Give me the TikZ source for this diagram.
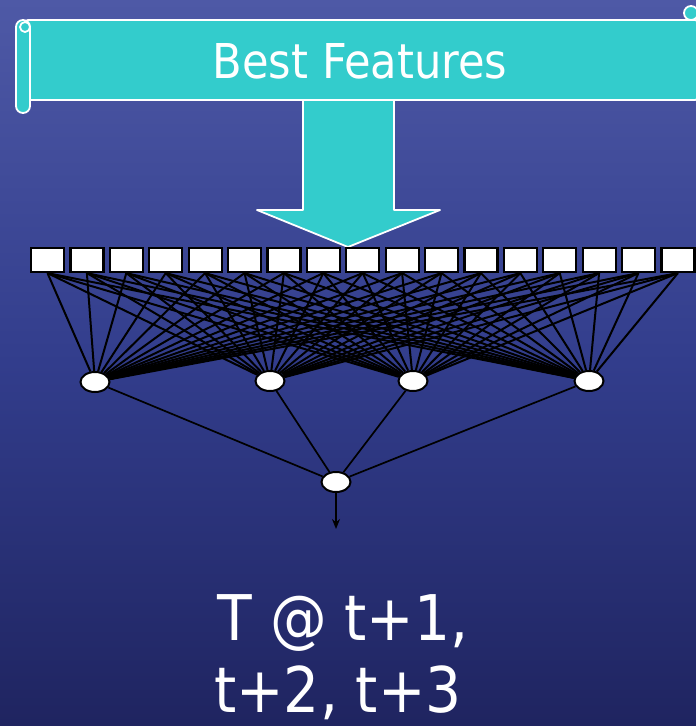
\documentclass[tikz,border=0pt]{standalone}
\usepackage{fontspec}
\setmainfont{DejaVu Sans Condensed}
\usetikzlibrary{shapes.geometric,arrows.meta}
\pgfdeclarelayer{back}
\pgfdeclarelayer{wires}
\pgfsetlayers{back,wires,main}
\definecolor{turq}{HTML}{33CCCC}
\definecolor{bgtop}{HTML}{4E59A6}
\definecolor{bgmid}{HTML}{323D8C}
\definecolor{bgbot}{HTML}{1F2460}
\tikzset{
  featbox/.style={draw=black, line width=2.2pt, fill=white, minimum width=33pt, minimum height=24pt, inner sep=0pt},
  hidnode/.style={ellipse, draw=black, line width=2pt, fill=white, minimum width=29pt, minimum height=20pt, inner sep=0pt},
  scrollpart/.style={fill=turq, draw=white, line width=1.8pt, line join=round},
  wire/.style={black, line width=2pt},
  wire2/.style={black, line width=1.7pt},
  whitetext/.style={text=white, inner sep=0pt, anchor=base}
}
\begin{document}
\begin{tikzpicture}[x=1pt, y=-1pt]
\useasboundingbox (0,0) rectangle (696,726);
\begin{pgfonlayer}{back}
  \shade[top color=bgtop, bottom color=bgbot, middle color=bgmid] (0,0) rectangle (696,726);
\end{pgfonlayer}
% big arrow from banner
\path[scrollpart] (303,95) -- (303,210) -- (257,210) -- (348,247) -- (440,210) -- (394,210) -- (394,95) -- cycle;
% banner (scroll)
\path[scrollpart] (691,13) circle (7);
\path[scrollpart, rounded corners=5pt] (23,20) -- (700,20) -- (700,100) -- (23,100) -- cycle;
\path[scrollpart, rounded corners=7pt] (16,20) rectangle (30,113);
\path[scrollpart] (25,27) circle (5);
\node[whitetext, font=\fontsize{48}{56}\selectfont] (title) at (360,78) {Best Features};
% feature boxes
\foreach \i in {1,...,17} {
  \node[featbox] (b\i) at ({47.5+39.4*(\i-1)},260) {};
}
% hidden nodes
\node[hidnode] (h1) at (95,382) {};
\node[hidnode] (h2) at (270,381) {};
\node[hidnode] (h3) at (413,381) {};
\node[hidnode] (h4) at (589,381) {};
% output node
\node[hidnode] (o) at (336,482) {};
\coordinate (oend) at (336,529);
\begin{pgfonlayer}{wires}
  \foreach \i in {1,...,17} {
    \foreach \j in {1,...,4} {
      \draw[wire] (b\i.south) -- (h\j);
    }
  }
  \foreach \j in {1,...,4} {
    \draw[wire2] (h\j) -- (o);
  }
\end{pgfonlayer}
\draw[black, line width=2.4pt, -{Stealth[length=10pt, width=8pt]}] (o.south) -- (oend);
% output text
\node[whitetext, font=\fontsize{63}{73}\selectfont] (out1) at (343,640) {T @ t+1,};
\node[whitetext, font=\fontsize{63}{73}\selectfont] (out2) at (338,712) {t+2, t+3};
\end{tikzpicture}
\end{document}
